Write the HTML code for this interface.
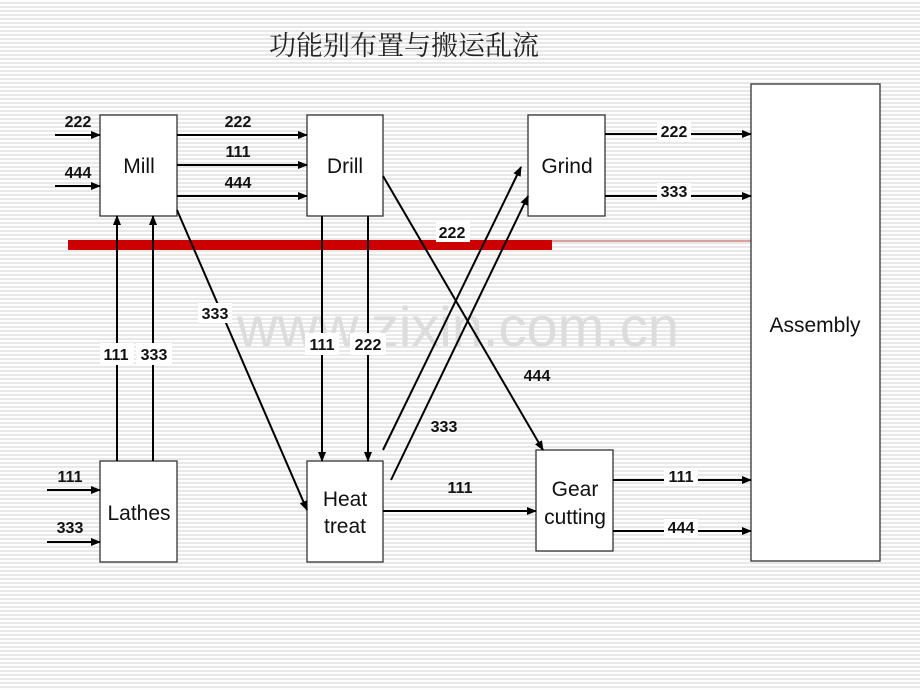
<!DOCTYPE html>
<html><head><meta charset="utf-8"><style>
html,body{margin:0;padding:0}
body{width:920px;height:690px;overflow:hidden;background:repeating-linear-gradient(to bottom,#fdfdfd 0px,#fdfdfd 2px,#e8e8e8 2px,#e8e8e8 4px)}
svg{position:absolute;left:0;top:0}
text{font-family:"Liberation Sans",Arial,sans-serif}
.l{font-size:16px;font-weight:bold;text-anchor:middle}
.n{font-size:21px;text-anchor:middle}
</style></head><body>
<svg width="920" height="690" viewBox="0 0 920 690">
<defs><marker id="a" markerWidth="10" markerHeight="8" refX="9" refY="4" orient="auto" markerUnits="userSpaceOnUse"><path d="M0,0 L10,4 L0,8 Z" fill="#000"/></marker></defs>
<text x="404" y="55" font-size="27" text-anchor="middle" style="font-family:'Noto Serif CJK SC','Noto Sans CJK SC',serif" fill="#222">功能别布置与搬运乱流</text>
<text x="458" y="346" font-size="56" text-anchor="middle" fill="#dcdcdc">www.zixin.com.cn</text>
<rect x="68" y="240" width="484" height="10" fill="#cc0000"/>
<line x1="552" y1="241" x2="751" y2="241" stroke="#c04040" stroke-width="1"/>
<g fill="#fff" stroke="#333" stroke-width="1.3">
<rect x="100" y="115" width="77" height="101"/>
<rect x="307" y="115" width="76" height="101"/>
<rect x="528" y="115" width="77" height="101"/>
<rect x="100" y="461" width="77" height="101"/>
<rect x="307" y="461" width="76" height="101"/>
<rect x="536" y="450" width="77" height="101"/>
<rect x="751" y="84" width="129" height="477"/>
</g>
<g fill="#111">
<text x="139" y="173" class="n">Mill</text>
<text x="345" y="173" class="n">Drill</text>
<text x="567" y="173" class="n">Grind</text>
<text x="139" y="520" class="n">Lathes</text>
<text x="345" y="506" class="n">Heat</text>
<text x="345" y="533" class="n">treat</text>
<text x="575" y="496" class="n">Gear</text>
<text x="575" y="524" class="n">cutting</text>
<text x="815" y="332" class="n">Assembly</text>
</g>
<g stroke="#000" stroke-width="2" marker-end="url(#a)" fill="none">
<line x1="55" y1="135" x2="100" y2="135"/>
<line x1="55" y1="186" x2="100" y2="186"/>
<line x1="177" y1="135" x2="307" y2="135"/>
<line x1="177" y1="165" x2="307" y2="165"/>
<line x1="177" y1="196" x2="307" y2="196"/>
<line x1="117" y1="461" x2="117" y2="216"/>
<line x1="153" y1="461" x2="153" y2="216"/>
<line x1="47" y1="490" x2="100" y2="490"/>
<line x1="47" y1="542" x2="100" y2="542"/>
<line x1="177" y1="210" x2="307" y2="510"/>
<line x1="322" y1="216" x2="322" y2="461"/>
<line x1="368" y1="216" x2="368" y2="461"/>
<line x1="383" y1="176" x2="543" y2="450"/>
<line x1="383" y1="450" x2="521" y2="167"/>
<line x1="391" y1="480" x2="528" y2="196"/>
<line x1="383" y1="511" x2="536" y2="511"/>
<line x1="605" y1="134" x2="751" y2="134"/>
<line x1="605" y1="196" x2="751" y2="196"/>
<line x1="613" y1="480" x2="751" y2="480"/>
<line x1="613" y1="531" x2="751" y2="531"/>
</g>
<g fill="#fff">
<rect x="198" y="303" width="34" height="20"/>
<rect x="100" y="343" width="34" height="22"/>
<rect x="136" y="343" width="36" height="22"/>
<rect x="305" y="333" width="34" height="22"/>
<rect x="350" y="333" width="36" height="22"/>
<rect x="436" y="222" width="34" height="20"/>
<rect x="657" y="122" width="34" height="18"/>
<rect x="657" y="183" width="34" height="18"/>
<rect x="664" y="468" width="34" height="18"/>
<rect x="664" y="519" width="34" height="18"/>
</g>
<g fill="#111">
<text x="78" y="127" class="l">222</text>
<text x="78" y="178" class="l">444</text>
<text x="238" y="127" class="l">222</text>
<text x="238" y="157" class="l">111</text>
<text x="238" y="188" class="l">444</text>
<text x="116" y="360" class="l">111</text>
<text x="154" y="360" class="l">333</text>
<text x="70" y="482" class="l">111</text>
<text x="70" y="533" class="l">333</text>
<text x="215" y="319" class="l">333</text>
<text x="322" y="350" class="l">111</text>
<text x="368" y="350" class="l">222</text>
<text x="452" y="238" class="l">222</text>
<text x="537" y="381" class="l">444</text>
<text x="444" y="432" class="l">333</text>
<text x="460" y="493" class="l">111</text>
<text x="674" y="137" class="l">222</text>
<text x="674" y="197" class="l">333</text>
<text x="681" y="482" class="l">111</text>
<text x="681" y="533" class="l">444</text>
</g>
</svg>
</body></html>
